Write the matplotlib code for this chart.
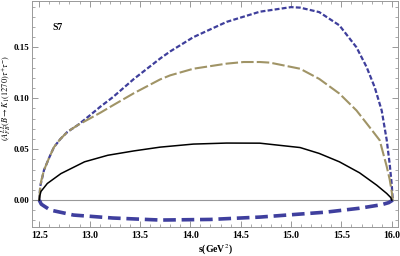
import numpy as np
import matplotlib
matplotlib.use("Agg")
from matplotlib import pyplot as plt
from matplotlib.ticker import MultipleLocator

# values
s_blue = [12.50, 12.51, 12.547, 12.60, 12.646, 12.71, 12.78, 12.88, 13.00, 13.11,
          13.23, 13.44, 13.70, 13.80, 14.03, 14.36, 14.69, 15.00, 15.09, 15.28,
          15.48, 15.65, 15.75, 15.83, 15.90, 15.95, 15.98, 16.00, 16.01]
a_blue = [0.0, 0.0136, 0.0294, 0.042, 0.052, 0.060, 0.067, 0.0735, 0.083, 0.092,
          0.101, 0.119, 0.139, 0.146, 0.160, 0.175, 0.185, 0.1895, 0.189, 0.1846,
          0.1716, 0.150, 0.1307, 0.111, 0.088, 0.059, 0.035, 0.015, 0.0]

s_olive = [12.50, 12.51, 12.52, 12.547, 12.60, 12.646, 12.71, 12.78, 12.88, 13.00,
           13.11, 13.23, 13.44, 13.70, 13.80, 14.03, 14.36, 14.53, 14.69, 14.79,
           15.09, 15.28, 15.48, 15.65, 15.78, 15.88, 15.95, 15.98, 16.00, 16.01]
a_olive = [0.0, 0.0136, 0.019, 0.0294, 0.042, 0.052, 0.060, 0.067, 0.0735, 0.080,
           0.086, 0.093, 0.105, 0.1185, 0.1225, 0.129, 0.134, 0.1356, 0.1356, 0.135,
           0.129, 0.119, 0.1046, 0.088, 0.0716, 0.0588, 0.033, 0.020, 0.008, 0.0]

s_black = [12.50, 12.505, 12.517, 12.58, 12.715, 12.95, 13.18, 13.44, 13.70, 14.03,
           14.36, 14.69, 15.09, 15.28, 15.48, 15.68, 15.85, 15.95, 15.99, 16.00]
a_black = [0.0, 0.004, 0.0085, 0.0163, 0.026, 0.0376, 0.044, 0.0483, 0.052, 0.055,
           0.056, 0.0559, 0.0516, 0.0458, 0.0376, 0.0268, 0.0147, 0.0065, 0.0025, 0.0]

s_neg = [12.50, 12.52, 12.55, 12.61, 12.84, 13.23, 13.70, 14.20, 14.69, 15.35,
         15.68, 15.90, 15.97, 16.01]
a_neg = [0.0, -0.004, -0.006, -0.0098, -0.0147, -0.0176, -0.0196, -0.019, -0.0167,
         -0.0118, -0.008, -0.0045, -0.0025, 0.0]

x_ticks = [12.5, 13.0, 13.5, 14.0, 14.5, 15.0, 15.5, 16.0]
y_ticks = [0.00, 0.05, 0.10, 0.15]

plt.rcParams['font.family'] = ['Liberation Serif', 'DejaVu Serif']
plt.rcParams['mathtext.fontset'] = 'stix'

fig = plt.figure(figsize=(4.0, 2.56), dpi=100)
ax = fig.add_axes([0.08, 0.113, 0.915, 0.885])

ax.axhline(0, color='#999999', lw=0.8, zorder=1)

ax.plot(s_blue, a_blue, color='#3f3f9c', lw=1.6, ls=(0, (2.2, 1.0)), zorder=3)
ax.plot(s_olive, a_olive, color='#a09466', lw=1.5, ls=(0, (6, 1.5)), zorder=3)
ax.plot(s_black, a_black, color='black', lw=1.1, zorder=4)
ax.plot(s_neg, a_neg, color='#3f3f9e', lw=2.6, ls=(0, (3.5, 1.6)), zorder=3)

ax.set_xlim(12.428, 16.062)
ax.set_ylim(-0.0265, 0.196)
ax.set_xticks(x_ticks)
ax.set_yticks(y_ticks)
ax.set_xticklabels([f'{v:.1f}' for v in x_ticks])
ax.set_yticklabels([f'{v:.2f}' for v in y_ticks])
ax.xaxis.set_minor_locator(MultipleLocator(0.1))
ax.yaxis.set_minor_locator(MultipleLocator(0.01))
ax.tick_params(which='both', direction='in', top=True, right=True, color='#888888')
ax.tick_params(axis='x', pad=3, labelsize=7)
ax.tick_params(axis='y', pad=2, labelsize=6.5)
ax.tick_params(which='major', length=4, width=0.6)
ax.tick_params(which='minor', length=2, width=0.5)
for lab in ax.get_xticklabels() + ax.get_yticklabels():
    lab.set_fontweight('bold')
for sp in ax.spines.values():
    sp.set_color('#999999')
    sp.set_linewidth(0.7)

ax.text(12.68, 0.1696, 'S7', fontsize=7, fontweight='bold', ha='center', va='center')
ax.set_xlabel(r's(GeV$^2$)', fontsize=7, fontweight='bold', labelpad=2)
ax.set_ylabel(r'$(A^{LL}_{FB}(B\rightarrow K_1(1270)\tau^{+}\tau^{-})$', fontsize=6, labelpad=2)
ax.yaxis.set_label_coords(-0.053, 0.57)

fig.savefig('out.png', dpi=100)
